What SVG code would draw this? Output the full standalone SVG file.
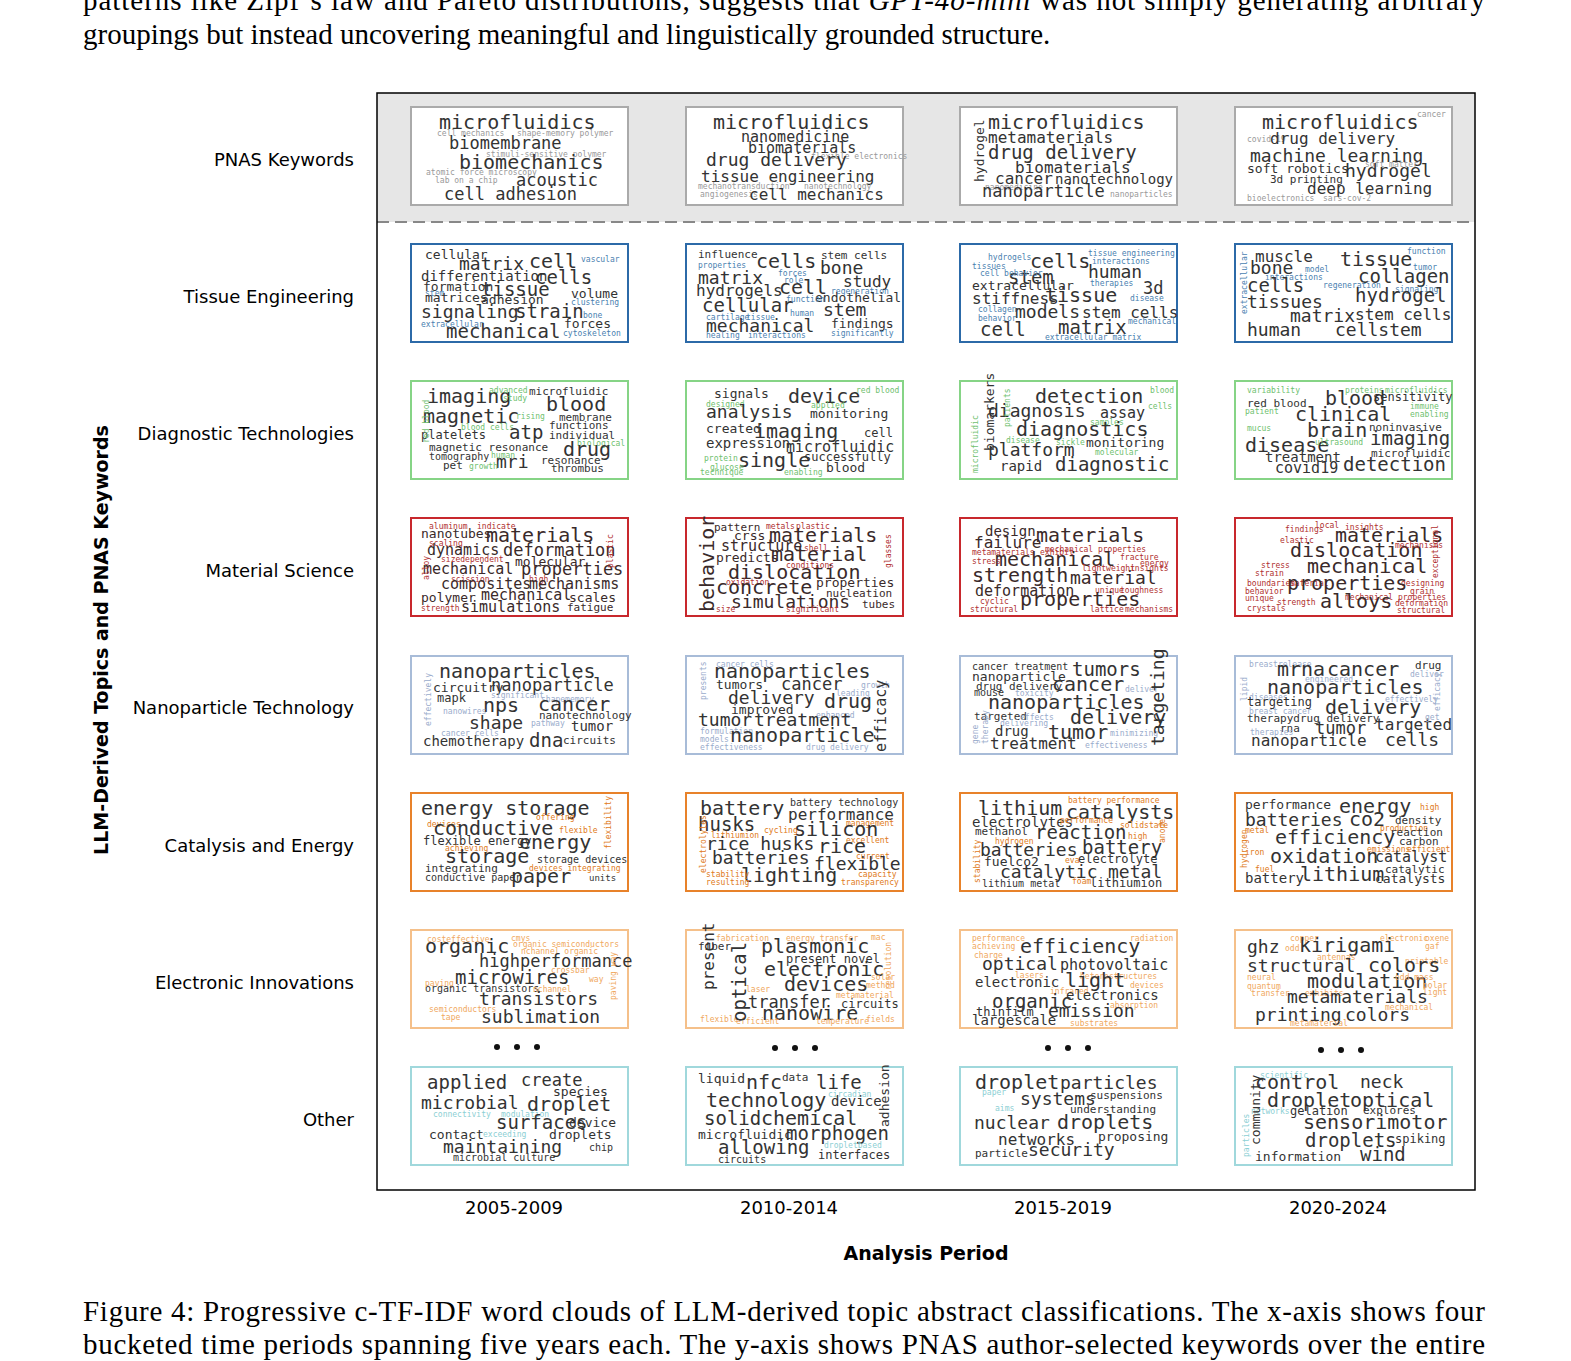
<svg xmlns="http://www.w3.org/2000/svg" width="1571" height="1361" viewBox="0 0 1571 1361">
<style>
.cap{font-family:"Liberation Serif",serif;font-size:29px;fill:#000}
.lab{font-family:"DejaVu Sans",sans-serif;font-size:18px;fill:#000}
.ttl{font-family:"DejaVu Sans",sans-serif;font-size:19px;font-weight:bold;fill:#000}
.box{fill:#fff;stroke-width:2}
text.w{font-family:"DejaVu Sans Mono",monospace;fill:#333}
text.s{font-family:"DejaVu Sans Mono",monospace;font-size:8px}
.r0 .box{stroke:#aaa}.r0 .s{fill:#999}
.r1 .box{stroke:#2c6aa8}.r1 .s{fill:#4a7fb0}
.r2 .box{stroke:#86d486}.r2 .s{fill:#6fbf6f}
.r3 .box{stroke:#c8282d}.r3 .s{fill:#b03030}.r3 .w{fill:#3a2a2a}
.r4 .box{stroke:#a8bcd8}.r4 .s{fill:#9aaccc}
.r5 .box{stroke:#e8822a}.r5 .s{fill:#e07a20}
.r6 .box{stroke:#f5c08a}.r6 .s{fill:#f0a860}
.r7 .box{stroke:#a0d8dc}.r7 .s{fill:#8ccfd4}
</style>
<rect width="1571" height="1361" fill="#fff"/>
<text class="cap" x="83" y="10" textLength="1402" lengthAdjust="spacing">patterns like Zipf’s law and Pareto distributions, suggests that <tspan font-style="italic">GPT-4o-mini</tspan> was not simply generating arbitrary</text>
<text class="cap" x="83" y="44">groupings but instead uncovering meaningful and linguistically grounded structure.</text>
<rect x="377" y="93" width="1098" height="129" fill="#e6e6e6"/>
<line x1="377" y1="222" x2="1475" y2="222" stroke="#888" stroke-width="2" stroke-dasharray="12,6"/>
<rect x="377" y="93" width="1098" height="1097" fill="none" stroke="#000" stroke-width="1.5"/>
<g id="rowlabels">
<text class="lab" x="354" y="166" text-anchor="end">PNAS Keywords</text>
<text class="lab" x="354" y="303" text-anchor="end">Tissue Engineering</text>
<text class="lab" x="354" y="440" text-anchor="end">Diagnostic Technologies</text>
<text class="lab" x="354" y="577" text-anchor="end">Material Science</text>
<text class="lab" x="354" y="714" text-anchor="end">Nanoparticle Technology</text>
<text class="lab" x="354" y="852" text-anchor="end">Catalysis and Energy</text>
<text class="lab" x="354" y="989" text-anchor="end">Electronic Innovations</text>
<text class="lab" x="354" y="1126" text-anchor="end">Other</text>
</g>
<text class="ttl" transform="translate(108,640) rotate(-90)" text-anchor="middle">LLM-Derived Topics and PNAS Keywords</text>
<g id="xticks">
<text class="lab" x="514" y="1214" text-anchor="middle">2005-2009</text>
<text class="lab" x="789" y="1214" text-anchor="middle">2010-2014</text>
<text class="lab" x="1063" y="1214" text-anchor="middle">2015-2019</text>
<text class="lab" x="1338" y="1214" text-anchor="middle">2020-2024</text>
</g>
<text class="ttl" x="926" y="1260" text-anchor="middle">Analysis Period</text>
<text class="cap" x="83" y="1321" textLength="1402" lengthAdjust="spacing">Figure 4: Progressive c-TF-IDF word clouds of LLM-derived topic abstract classifications. The x-axis shows four</text>
<text class="cap" x="83" y="1354" textLength="1402" lengthAdjust="spacing">bucketed time periods spanning five years each. The y-axis shows PNAS author-selected keywords over the entire</text>

<!-- PNAS row -->
<g class="r0">
<g id="pnas-1" transform="translate(411,107)"><rect class="box" width="217" height="98"/>
<text class="w" x="28" y="22" font-size="20">microfluidics</text><text class="s" x="26" y="29">cell mechanics</text><text class="s" x="106" y="29">shape-memory polymer</text>
<text class="w" x="38" y="42" font-size="17">biomembrane</text><text class="s" x="75" y="50" font-size="7">stimuli-sensitive polymer</text>
<text class="w" x="48" y="62" font-size="20">biomechanics</text><text class="s" x="15" y="68" font-size="7">atomic force microscopy</text><text class="s" x="24" y="76" font-size="7">lab on a chip</text>
<text class="w" x="105" y="79" font-size="17">acoustic</text><text class="w" x="33" y="93" font-size="17">cell adhesion</text></g>
<g id="pnas-2" transform="translate(686,107)"><rect class="box" width="217" height="98"/>
<text class="w" x="27" y="22" font-size="20">microfluidics</text><text class="w" x="55" y="35" font-size="15">nanomedicine</text><text class="w" x="62" y="46" font-size="15">biomaterials</text><text class="s" x="125" y="52">flexible electronics</text>
<text class="w" x="20" y="59" font-size="18">drug delivery</text><text class="w" x="15" y="75" font-size="16">tissue engineering</text><text class="s" x="12" y="82">mechanotransduction</text><text class="s" x="118" y="82">nanotechnology</text>
<text class="s" x="14" y="90">angiogenesis</text><text class="w" x="63" y="93" font-size="16">cell mechanics</text></g>
<g id="pnas-3" transform="translate(960,107)"><rect class="box" width="217" height="98"/>
<text class="w" x="28" y="22" font-size="20">microfluidics</text><text class="w" x="28" y="36" font-size="16">metamaterials</text><text class="w" x="28" y="52" font-size="19">drug delivery</text>
<text class="w" x="55" y="66" font-size="16">biomaterials</text><text class="w" x="35" y="77" font-size="16">cancer</text><text class="w" x="95" y="77" font-size="14">nanotechnology</text>
<text class="s" x="25" y="83">nanomedicine</text><text class="w" x="22" y="90" font-size="17">nanoparticle</text><text class="s" x="150" y="90" font-size="7">nanoparticles</text>
<text class="w" transform="translate(24,75) rotate(-90)" font-size="13">hydrogel</text></g>
<g id="pnas-4" transform="translate(1235,107)"><rect class="box" width="217" height="98"/>
<text class="w" x="27" y="22" font-size="20">microfluidics</text><text class="s" x="182" y="10">cancer</text><text class="s" x="12" y="35">covid-19</text><text class="w" x="35" y="37" font-size="16">drug delivery</text>
<text class="w" x="15" y="55" font-size="18">machine learning</text><text class="s" x="130" y="60">soft matter</text><text class="w" x="12" y="66" font-size="13">soft robotics</text><text class="w" x="110" y="70" font-size="18">hydrogel</text>
<text class="w" x="35" y="76" font-size="11">3d printing</text><text class="w" x="72" y="87" font-size="16">deep learning</text><text class="s" x="12" y="94">bioelectronics</text><text class="s" x="88" y="94">sars-cov-2</text></g>
</g>

<!-- Tissue -->
<g class="r1">
<g id="tissue-1" transform="translate(411,244)"><rect class="box" width="217" height="98"/>
<text class="w" x="14" y="15" font-size="13">cellular</text><text class="w" x="48" y="26" font-size="18">matrix</text><text class="w" x="118" y="24" font-size="20">cell</text><text class="s" x="170" y="18">vascular</text>
<text class="w" x="10" y="37" font-size="14">differentiation</text><text class="w" x="124" y="40" font-size="19">cells</text><text class="w" x="12" y="47" font-size="13">formation</text><text class="s" x="14" y="52">stem</text>
<text class="w" x="70" y="52" font-size="19">tissue</text><text class="w" x="160" y="54" font-size="13">volume</text><text class="w" x="14" y="58" font-size="13">matrices</text><text class="w" x="70" y="60" font-size="13">adhesion</text><text class="s" x="160" y="61">clustering</text>
<text class="w" x="10" y="74" font-size="18">signaling</text><text class="w" x="104" y="74" font-size="19">strain</text><text class="s" x="172" y="74">bone</text><text class="s" x="10" y="83">extracellular</text><text class="w" x="153" y="84" font-size="13">forces</text>
<text class="w" x="35" y="94" font-size="19">mechanical</text><text class="s" x="152" y="92">cytoskeleton</text></g>
<g id="tissue-2" transform="translate(686,244)"><rect class="box" width="217" height="98"/>
<text class="w" x="12" y="14" font-size="11">influence</text><text class="w" x="70" y="24" font-size="20">cells</text><text class="w" x="135" y="15" font-size="11">stem cells</text><text class="s" x="12" y="24">properties</text>
<text class="w" x="134" y="30" font-size="18">bone</text><text class="w" x="12" y="40" font-size="18">matrix</text><text class="s" x="92" y="32">forces</text><text class="s" x="98" y="39">role</text>
<text class="w" x="157" y="43" font-size="16">study</text><text class="w" x="10" y="52" font-size="16">hydrogels</text><text class="w" x="93" y="50" font-size="20">cell</text><text class="s" x="145" y="50">regeneration</text>
<text class="w" x="16" y="68" font-size="19">cellular</text><text class="w" x="129" y="58" font-size="13">endothelial</text><text class="s" x="100" y="58">function</text><text class="w" x="137" y="72" font-size="18">stem</text>
<text class="s" x="20" y="76">cartilage</text><text class="s" x="60" y="76">tissue</text><text class="s" x="104" y="72">human</text><text class="w" x="20" y="88" font-size="18">mechanical</text><text class="w" x="145" y="84" font-size="13">findings</text>
<text class="s" x="20" y="94">healing</text><text class="s" x="62" y="94">interactions</text><text class="s" x="145" y="92">significantly</text></g>
<g id="tissue-3" transform="translate(960,244)"><rect class="box" width="217" height="98"/>
<text class="s" x="28" y="16">hydrogels</text><text class="w" x="70" y="24" font-size="20">cells</text><text class="s" x="128" y="12">tissue engineering</text><text class="s" x="132" y="20">interactions</text>
<text class="s" x="12" y="25">tissues</text><text class="w" x="48" y="40" font-size="19">stem</text><text class="w" x="128" y="34" font-size="18">human</text><text class="s" x="20" y="32">cell behavior</text><text class="s" x="130" y="42">therapies</text>
<text class="w" x="12" y="46" font-size="13">extracellular</text><text class="w" x="183" y="50" font-size="17">3d</text><text class="w" x="12" y="60" font-size="16">stiffness</text><text class="w" x="85" y="58" font-size="20">tissue</text><text class="s" x="170" y="57">disease</text>
<text class="s" x="18" y="68">collagen</text><text class="w" x="55" y="74" font-size="18">models</text><text class="w" x="122" y="74" font-size="16">stem cells</text><text class="s" x="18" y="77">behavior</text><text class="s" x="168" y="80">mechanical</text>
<text class="w" x="20" y="92" font-size="19">cell</text><text class="w" x="98" y="90" font-size="19">matrix</text><text class="s" x="85" y="96">extracellular matrix</text></g>
<g id="tissue-4" transform="translate(1235,244)"><rect class="box" width="217" height="98"/>
<text class="w" x="20" y="18" font-size="16">muscle</text><text class="w" x="105" y="22" font-size="20">tissue</text><text class="s" x="172" y="10">function</text><text class="w" x="15" y="30" font-size="18">bone</text><text class="s" x="70" y="28">model</text><text class="s" x="178" y="26">tumor</text>
<text class="w" x="123" y="39" font-size="19">collagen</text><text class="s" x="30" y="36">interactions</text><text class="w" x="12" y="48" font-size="19">cells</text><text class="s" x="88" y="44">regeneration</text><text class="s" x="160" y="48">signaling</text>
<text class="w" x="12" y="64" font-size="18">tissues</text><text class="w" x="120" y="58" font-size="19">hydrogel</text><text class="w" x="55" y="78" font-size="18">matrix</text><text class="w" x="120" y="76" font-size="16">stem cells</text>
<text class="w" x="12" y="92" font-size="18">human</text><text class="w" x="100" y="92" font-size="18">cellstem</text><text class="s" transform="translate(12,70) rotate(-90)">extracellular</text></g>
</g>

<!-- Diagnostic -->
<g class="r2">
<g id="diag-1" transform="translate(411,381)"><rect class="box" width="217" height="98"/>
<text class="w" x="16" y="22" font-size="20">imaging</text><text class="s" x="78" y="12">advanced</text><text class="w" x="118" y="14" font-size="11">microfluidic</text><text class="s" x="92" y="20">study</text>
<text class="w" x="135" y="30" font-size="20">blood</text><text class="w" x="12" y="42" font-size="20">magnetic</text><text class="s" x="105" y="38">rising</text><text class="w" x="148" y="40" font-size="11">membrane</text><text class="w" x="138" y="48" font-size="11">functions</text>
<text class="w" x="10" y="58" font-size="12">platelets</text><text class="s" x="50" y="49">blood cells</text><text class="w" x="98" y="58" font-size="19">atp</text><text class="w" x="138" y="58" font-size="11">individual</text><text class="s" x="166" y="65">biological</text>
<text class="w" x="18" y="70" font-size="11">magnetic resonance</text><text class="w" x="152" y="75" font-size="20">drug</text><text class="w" x="18" y="79" font-size="10">tomography</text><text class="s" x="80" y="77">human</text>
<text class="w" x="85" y="87" font-size="18">mri</text><text class="w" x="130" y="83" font-size="11">resonance</text><text class="w" x="32" y="88" font-size="11">pet</text><text class="s" x="58" y="88">growth</text><text class="w" x="140" y="91" font-size="11">thrombus</text>
<text class="s" transform="translate(18,62) rotate(-90)">red blood</text></g>
<g id="diag-2" transform="translate(686,381)"><rect class="box" width="217" height="98"/>
<text class="w" x="28" y="17" font-size="13">signals</text><text class="w" x="102" y="22" font-size="20">device</text><text class="s" x="170" y="12">red blood</text><text class="s" x="20" y="26">designed</text><text class="w" x="20" y="37" font-size="18">analysis</text>
<text class="w" x="124" y="37" font-size="13">monitoring</text><text class="s" x="125" y="27">applied</text><text class="w" x="20" y="52" font-size="13">created</text><text class="w" x="68" y="57" font-size="20">imaging</text><text class="w" x="178" y="56" font-size="12">cell</text>
<text class="w" x="20" y="67" font-size="14">expression</text><text class="w" x="100" y="71" font-size="15">microfluidic</text><text class="s" x="18" y="80">protein</text><text class="w" x="52" y="86" font-size="20">single</text>
<text class="w" x="118" y="80" font-size="12">successfully</text><text class="s" x="24" y="89">glucose</text><text class="w" x="140" y="91" font-size="13">blood</text><text class="s" x="14" y="94">technique</text><text class="s" x="98" y="94">enabling</text></g>
<g id="diag-3" transform="translate(960,381)"><rect class="box" width="217" height="98"/>
<text class="w" x="75" y="22" font-size="20">detection</text><text class="s" x="190" y="12">blood</text><text class="w" x="28" y="36" font-size="18">diagnosis</text><text class="w" x="140" y="37" font-size="15">assay</text><text class="s" x="188" y="28">cells</text>
<text class="s" x="130" y="44">samples</text><text class="w" x="56" y="55" font-size="20">diagnostics</text><text class="s" x="46" y="62">disease</text><text class="s" x="96" y="64">sickle</text><text class="w" x="126" y="66" font-size="13">monitoring</text>
<text class="w" x="28" y="75" font-size="18">platform</text><text class="s" x="135" y="74">molecular</text><text class="w" x="40" y="90" font-size="14">rapid</text><text class="w" x="95" y="90" font-size="19">diagnostic</text>
<text class="w" transform="translate(34,70) rotate(-90)" font-size="13">biomarkers</text><text class="s" transform="translate(18,92) rotate(-90)">microfluidic</text><text class="s" transform="translate(50,46) rotate(-90)">patients</text></g>
<g id="diag-4" transform="translate(1235,381)"><rect class="box" width="217" height="98"/>
<text class="s" x="12" y="12">variability</text><text class="s" x="110" y="12">proteins</text><text class="s" x="150" y="12">microfluidics</text><text class="w" x="90" y="24" font-size="20">blood</text><text class="w" x="138" y="20" font-size="12">sensitivity</text>
<text class="w" x="12" y="26" font-size="11">red blood</text><text class="s" x="10" y="33">patient</text><text class="s" x="175" y="28">immune</text><text class="w" x="60" y="40" font-size="20">clinical</text><text class="s" x="175" y="36">enabling</text>
<text class="w" x="72" y="56" font-size="20">brain</text><text class="w" x="134" y="50" font-size="11">noninvasive</text><text class="s" x="12" y="50">mucus</text><text class="w" x="10" y="71" font-size="20">disease</text><text class="w" x="135" y="64" font-size="19">imaging</text>
<text class="s" x="80" y="64">ultrasound</text><text class="w" x="30" y="81" font-size="14">treatment</text><text class="w" x="136" y="76" font-size="11">microfluidic</text><text class="w" x="40" y="92" font-size="15">covid19</text><text class="w" x="108" y="90" font-size="19">detection</text></g>
</g>

<!-- Material -->
<g class="r3">
<g id="mat-1" transform="translate(411,518)"><rect class="box" width="217" height="98"/>
<text class="s" x="18" y="11">aluminum</text><text class="s" x="66" y="11">indicate</text><text class="w" x="10" y="20" font-size="13">nanotubes</text><text class="w" x="75" y="24" font-size="20">materials</text><text class="s" x="18" y="28">scaling</text>
<text class="w" x="16" y="37" font-size="15">dynamics</text><text class="w" x="92" y="38" font-size="17">deformation</text><text class="s" x="30" y="44">sizedependent</text><text class="w" x="104" y="48" font-size="13">molecular</text>
<text class="w" x="12" y="56" font-size="15">mechanical</text><text class="w" x="110" y="57" font-size="17">properties</text><text class="s" x="40" y="64">scission</text><text class="s" x="118" y="64">high</text>
<text class="w" x="30" y="71" font-size="15">composites</text><text class="w" x="118" y="71" font-size="15">mechanisms</text><text class="w" x="10" y="84" font-size="13">polymer</text><text class="w" x="70" y="82" font-size="15">mechanical</text><text class="w" x="158" y="84" font-size="13">scales</text>
<text class="s" x="10" y="93">strength</text><text class="w" x="50" y="94" font-size="15">simulations</text><text class="w" x="156" y="93" font-size="11">fatigue</text>
<text class="s" transform="translate(18,62) rotate(-90)">alloy</text><text class="s" transform="translate(202,50) rotate(-90)">plastic</text></g>
<g id="mat-2" transform="translate(686,518)"><rect class="box" width="217" height="98"/>
<text class="w" x="28" y="13" font-size="11">pattern</text><text class="s" x="80" y="11">metals</text><text class="s" x="110" y="11">plastic</text><text class="w" x="48" y="22" font-size="13">crss</text><text class="w" x="83" y="24" font-size="20">materials</text>
<text class="w" x="35" y="33" font-size="15">structure</text><text class="s" x="118" y="33">shell</text><text class="w" x="30" y="44" font-size="13">predicts</text><text class="w" x="85" y="43" font-size="20">material</text>
<text class="w" x="42" y="61" font-size="20">dislocation</text><text class="s" x="100" y="50">conditions</text><text class="s" x="40" y="67">oxidation</text><text class="w" x="30" y="76" font-size="20">concrete</text><text class="w" x="130" y="69" font-size="13">properties</text>
<text class="w" x="140" y="79" font-size="11">nucleation</text><text class="w" x="45" y="90" font-size="18">simulations</text><text class="w" x="176" y="90" font-size="11">tubes</text><text class="s" x="30" y="94">size</text><text class="s" x="100" y="94">significant</text>
<text class="w" transform="translate(28,94) rotate(-90)" font-size="20">behavior</text><text class="s" transform="translate(205,50) rotate(-90)">glasses</text></g>
<g id="mat-3" transform="translate(960,518)"><rect class="box" width="217" height="98"/>
<text class="w" x="25" y="18" font-size="14">design</text><text class="w" x="76" y="24" font-size="20">materials</text><text class="w" x="14" y="30" font-size="16">failure</text><text class="s" x="85" y="34">mechanical properties</text>
<text class="s" x="12" y="37">metamaterials</text><text class="s" x="80" y="37">exhibit</text><text class="w" x="35" y="48" font-size="20">mechanical</text><text class="s" x="160" y="42">fracture</text><text class="s" x="180" y="48">energy</text>
<text class="s" x="12" y="46">stress</text><text class="w" x="12" y="64" font-size="20">strength</text><text class="s" x="122" y="53">lightweight</text><text class="s" x="170" y="53">insights</text><text class="w" x="110" y="66" font-size="18">material</text>
<text class="w" x="15" y="78" font-size="15">deformation</text><text class="s" x="135" y="75">unique</text><text class="s" x="160" y="75">toughness</text><text class="s" x="20" y="86">cyclic</text>
<text class="w" x="60" y="88" font-size="20">properties</text><text class="s" x="10" y="94">structural</text><text class="s" x="130" y="94">lattice</text><text class="s" x="165" y="94">mechanisms</text></g>
<g id="mat-4" transform="translate(1235,518)"><rect class="box" width="217" height="98"/>
<text class="s" x="50" y="14">findings</text><text class="s" x="80" y="10">local</text><text class="s" x="110" y="12">insights</text><text class="w" x="100" y="24" font-size="20">materials</text><text class="s" x="45" y="25">elastic</text>
<text class="w" x="55" y="39" font-size="20">dislocation</text><text class="s" x="160" y="30">mechanisms</text><text class="w" x="72" y="55" font-size="20">mechanical</text><text class="s" x="26" y="50">stress</text><text class="s" x="20" y="58">strain</text>
<text class="s" x="12" y="68">boundaries</text><text class="s" x="55" y="68">material</text><text class="s" x="166" y="68">designing</text><text class="s" x="10" y="76">behavior</text><text class="w" x="52" y="72" font-size="20">properties</text><text class="s" x="175" y="76">grain</text>
<text class="s" x="10" y="83">unique</text><text class="s" x="110" y="82">mechanical properties</text><text class="w" x="85" y="90" font-size="20">alloys</text><text class="s" x="42" y="87">strength</text><text class="s" x="12" y="93">crystals</text>
<text class="s" x="160" y="88">deformation</text><text class="s" x="162" y="95">structural</text><text class="s" transform="translate(203,60) rotate(-90)">exceptional</text></g>
</g>

<!-- Nano -->
<g class="r4">
<g id="nano-1" transform="translate(411,656)"><rect class="box" width="217" height="98"/>
<text class="w" x="28" y="22" font-size="20">nanoparticles</text><text class="w" x="22" y="36" font-size="13">circuitry</text><text class="w" x="80" y="35" font-size="17">nanoparticle</text><text class="w" x="26" y="46" font-size="12">mapk</text>
<text class="s" x="80" y="42">significant</text><text class="s" x="130" y="46">shapememory</text><text class="w" x="72" y="56" font-size="20">nps</text><text class="w" x="127" y="55" font-size="20">cancer</text><text class="s" x="32" y="58">nanowires</text>
<text class="w" x="128" y="63" font-size="11">nanotechnology</text><text class="w" x="58" y="73" font-size="18">shape</text><text class="s" x="120" y="70">pathway</text><text class="w" x="160" y="75" font-size="14">tumor</text><text class="s" x="30" y="80">cancer cells</text>
<text class="w" x="12" y="90" font-size="14">chemotherapy</text><text class="w" x="118" y="91" font-size="19">dna</text><text class="w" x="152" y="88" font-size="11">circuits</text><text class="s" transform="translate(20,70) rotate(-90)">effectively</text></g>
<g id="nano-2" transform="translate(686,656)"><rect class="box" width="217" height="98"/>
<text class="s" x="30" y="11">cancer cells</text><text class="w" x="28" y="22" font-size="20">nanoparticles</text><text class="w" x="30" y="33" font-size="13">tumors</text><text class="w" x="95" y="34" font-size="17">cancer</text><text class="s" x="175" y="32">growth</text>
<text class="w" x="42" y="48" font-size="18">delivery</text><text class="w" x="138" y="52" font-size="20">drug</text><text class="s" x="150" y="40">leading</text><text class="w" x="45" y="58" font-size="13">improved</text><text class="s" x="130" y="62">enhanced</text>
<text class="w" x="12" y="70" font-size="18">tumor</text><text class="w" x="68" y="70" font-size="18">treatment</text><text class="s" x="14" y="78">formulation</text><text class="s" x="14" y="86">models</text>
<text class="w" x="44" y="86" font-size="20">nanoparticle</text><text class="s" x="14" y="94">effectiveness</text><text class="s" x="120" y="94">drug delivery</text><text class="w" transform="translate(200,96) rotate(-90)" font-size="15">efficacy</text>
<text class="s" transform="translate(20,44) rotate(-90)">presents</text></g>
<g id="nano-3" transform="translate(960,656)"><rect class="box" width="217" height="98"/>
<text class="w" x="12" y="14" font-size="10">cancer treatment</text><text class="w" x="112" y="20" font-size="19">tumors</text><text class="w" x="12" y="25" font-size="13">nanoparticle</text><text class="w" x="16" y="34" font-size="11">drug delivery</text>
<text class="w" x="92" y="35" font-size="20">cancer</text><text class="s" x="165" y="36">deliver</text><text class="w" x="14" y="40" font-size="10">mouse</text><text class="s" x="55" y="40">toxicity</text><text class="w" x="28" y="53" font-size="20">nanoparticles</text>
<text class="w" x="14" y="64" font-size="11">targeted</text><text class="s" x="60" y="64">effects</text><text class="w" x="110" y="68" font-size="20">delivery</text><text class="s" x="40" y="70">delivering</text><text class="w" x="35" y="80" font-size="14">drug</text>
<text class="w" x="88" y="83" font-size="20">tumor</text><text class="s" x="150" y="80">minimizing</text><text class="w" x="30" y="93" font-size="16">treatment</text><text class="s" x="125" y="92">effectiveness</text>
<text class="w" transform="translate(204,90) rotate(-90)" font-size="18">targeting</text><text class="s" transform="translate(18,88) rotate(-90)">gene</text><text class="s" transform="translate(28,88) rotate(-90)">therapy</text></g>
<g id="nano-4" transform="translate(1235,656)"><rect class="box" width="217" height="98"/>
<text class="s" x="14" y="11">breastrelease</text><text class="w" x="42" y="20" font-size="20">mrna</text><text class="w" x="92" y="20" font-size="20">cancer</text><text class="w" x="180" y="13" font-size="11">drug</text><text class="s" x="175" y="21">deliver</text>
<text class="w" x="32" y="38" font-size="20">nanoparticles</text><text class="s" x="70" y="26">engineered</text><text class="s" x="14" y="44">diseases</text><text class="s" x="150" y="46">effectively</text><text class="w" x="12" y="50" font-size="12">targeting</text>
<text class="w" x="90" y="58" font-size="20">delivery</text><text class="s" x="14" y="58">breast cancer</text><text class="w" x="12" y="66" font-size="11">therapydrug delivery</text><text class="w" x="140" y="74" font-size="16">targeted</text><text class="s" x="190" y="64">get</text>
<text class="w" x="45" y="76" font-size="11">rna</text><text class="w" x="80" y="78" font-size="17">tumor</text><text class="s" x="15" y="79">therapies</text><text class="w" x="16" y="90" font-size="16">nanoparticle</text><text class="w" x="150" y="90" font-size="18">cells</text>
<text class="s" transform="translate(12,45) rotate(-90)">lipid</text><text class="s" transform="translate(205,55) rotate(-90)">efficacy</text></g>
</g>

<!-- Catalysis -->
<g class="r5">
<g id="cat-1" transform="translate(411,793)"><rect class="box" width="217" height="98"/>
<text class="w" x="10" y="22" font-size="20">energy storage</text><text class="s" x="125" y="27">offering</text><text class="s" x="16" y="34">devices</text><text class="w" x="22" y="42" font-size="20">conductive</text><text class="s" x="148" y="40">flexible</text>
<text class="w" x="12" y="52" font-size="12">flexible energy</text><text class="w" x="108" y="56" font-size="20">energy</text><text class="s" x="34" y="58">achieving</text><text class="w" x="34" y="70" font-size="20">storage</text>
<text class="w" x="126" y="70" font-size="10">storage devices</text><text class="w" x="14" y="79" font-size="11">integrating</text><text class="s" x="118" y="78">devices integrating</text><text class="w" x="14" y="88" font-size="10">conductive paper</text>
<text class="w" x="100" y="90" font-size="20">paper</text><text class="w" x="178" y="88" font-size="9">units</text><text class="s" transform="translate(200,56) rotate(-90)">flexibility</text></g>
<g id="cat-2" transform="translate(686,793)"><rect class="box" width="217" height="98"/>
<text class="w" x="14" y="22" font-size="20">battery</text><text class="w" x="104" y="13" font-size="10">battery technology</text><text class="w" x="102" y="27" font-size="16">performance</text><text class="w" x="12" y="38" font-size="19">husks</text>
<text class="s" x="25" y="45">lithiumion</text><text class="s" x="78" y="40">cycling</text><text class="s" x="160" y="33">management</text><text class="w" x="108" y="43" font-size="20">silicon</text><text class="s" x="160" y="50">excellent</text>
<text class="w" x="20" y="57" font-size="18">rice husks</text><text class="w" x="132" y="60" font-size="20">rice</text><text class="w" x="26" y="71" font-size="18">batteries</text><text class="s" x="170" y="66">current</text>
<text class="w" x="128" y="77" font-size="18">flexible</text><text class="w" x="55" y="89" font-size="20">lighting</text><text class="s" x="20" y="84">stability</text><text class="s" x="20" y="92">resulting</text><text class="s" x="172" y="84">capacity</text><text class="s" x="155" y="92">transparency</text>
<text class="s" transform="translate(20,80) rotate(-90)">electrolytes</text></g>
<g id="cat-3" transform="translate(960,793)"><rect class="box" width="217" height="98"/>
<text class="w" x="18" y="22" font-size="20">lithium</text><text class="s" x="108" y="10">battery performance</text><text class="w" x="106" y="26" font-size="20">catalysts</text><text class="w" x="12" y="34" font-size="14">electrolytes</text>
<text class="s" x="100" y="30">performance</text><text class="w" x="15" y="42" font-size="11">methanol</text><text class="w" x="75" y="46" font-size="19">reaction</text><text class="s" x="160" y="35">solidstate</text><text class="s" x="168" y="46">high</text>
<text class="s" x="35" y="51">hydrogen</text><text class="w" x="20" y="63" font-size="18">batteries</text><text class="w" x="122" y="61" font-size="19">battery</text><text class="w" x="24" y="73" font-size="13">fuelco2</text><text class="s" x="105" y="70">eva</text>
<text class="w" x="118" y="70" font-size="12">electrolyte</text><text class="w" x="40" y="85" font-size="18">catalytic</text><text class="w" x="148" y="85" font-size="18">metal</text><text class="w" x="22" y="94" font-size="10">lithium metal</text><text class="s" x="112" y="91">foam</text>
<text class="w" x="130" y="94" font-size="12">lithiumion</text><text class="s" transform="translate(20,90) rotate(-90)">stability</text><text class="s" transform="translate(205,50) rotate(-90)">anode</text></g>
<g id="cat-4" transform="translate(1235,793)"><rect class="box" width="217" height="98"/>
<text class="w" x="10" y="16" font-size="13">performance</text><text class="w" x="104" y="20" font-size="20">energy</text><text class="s" x="185" y="17">high</text><text class="w" x="10" y="33" font-size="18">batteries</text><text class="w" x="114" y="33" font-size="20">co2</text>
<text class="w" x="160" y="31" font-size="11">density</text><text class="s" x="10" y="40">metal</text><text class="w" x="40" y="51" font-size="20">efficiency</text><text class="s" x="145" y="38">production</text><text class="w" x="155" y="43" font-size="11">reaction</text>
<text class="w" x="164" y="52" font-size="11">carbon</text><text class="s" x="10" y="62">iron</text><text class="s" x="132" y="59">emissions</text><text class="s" x="172" y="59">efficient</text><text class="w" x="35" y="70" font-size="20">oxidation</text><text class="w" x="140" y="69" font-size="15">catalyst</text>
<text class="s" x="20" y="79">fuel</text><text class="w" x="150" y="80" font-size="11">catalytic</text><text class="w" x="10" y="90" font-size="14">battery</text><text class="w" x="65" y="88" font-size="20">lithium</text><text class="w" x="140" y="90" font-size="13">catalysts</text>
<text class="s" transform="translate(12,75) rotate(-90)">hydrogen</text></g>
</g>

<!-- Electronic -->
<g class="r6">
<g id="elec-1" transform="translate(411,930)"><rect class="box" width="217" height="98"/>
<text class="s" x="16" y="12">costeffective</text><text class="s" x="100" y="11">cmys</text><text class="w" x="14" y="23" font-size="20">organic</text><text class="s" x="102" y="17">organic semiconductors</text><text class="s" x="110" y="24">nchannel organic</text>
<text class="w" x="68" y="37" font-size="17">highperformance</text><text class="s" x="140" y="43">crossbar</text><text class="s" x="14" y="56">paving</text><text class="w" x="44" y="54" font-size="19">microwires</text><text class="s" x="178" y="52">way</text>
<text class="w" x="14" y="62" font-size="10">organic transistors</text><text class="s" x="122" y="62">nchannel</text><text class="w" x="68" y="75" font-size="18">transistors</text><text class="s" x="18" y="82">semiconductors</text><text class="s" x="30" y="90">tape</text>
<text class="w" x="70" y="93" font-size="18">sublimation</text><text class="s" transform="translate(205,70) rotate(-90)">paving way</text></g>
<g id="elec-2" transform="translate(686,930)"><rect class="box" width="217" height="98"/>
<text class="s" x="30" y="11">fabrication</text><text class="s" x="100" y="11">energy transfer</text><text class="s" x="185" y="10">mac</text><text class="w" x="12" y="20" font-size="11">fiber</text><text class="w" x="75" y="23" font-size="20">plasmonic</text>
<text class="w" x="100" y="33" font-size="12">present novel</text><text class="w" x="78" y="46" font-size="20">electronic</text><text class="s" x="185" y="50">solar</text><text class="w" x="98" y="61" font-size="20">devices</text><text class="s" x="180" y="58">method</text>
<text class="s" x="60" y="62">laser</text><text class="w" x="62" y="78" font-size="17">transfer</text><text class="s" x="150" y="68">metamaterial</text><text class="w" x="155" y="78" font-size="12">circuits</text>
<text class="w" x="76" y="90" font-size="20">nanowire</text><text class="s" x="14" y="92">flexible</text><text class="s" x="50" y="94">efficient</text><text class="s" x="130" y="94">temperature</text><text class="s" x="180" y="92">fields</text>
<text class="w" transform="translate(28,60) rotate(-90)" font-size="16">present</text><text class="w" transform="translate(60,92) rotate(-90)" font-size="19">optical</text><text class="s" transform="translate(205,60) rotate(-90)">resolution</text></g>
<g id="elec-3" transform="translate(960,930)"><rect class="box" width="217" height="98"/>
<text class="s" x="12" y="11">performance</text><text class="s" x="12" y="19">achieving</text><text class="w" x="60" y="23" font-size="20">efficiency</text><text class="s" x="170" y="11">radiation</text><text class="s" x="14" y="28">charge</text>
<text class="w" x="22" y="40" font-size="18">optical</text><text class="w" x="100" y="40" font-size="15">photovoltaic</text><text class="s" x="55" y="48">lasers</text><text class="s" x="120" y="49">heterostructures</text><text class="w" x="105" y="57" font-size="20">light</text>
<text class="w" x="15" y="57" font-size="14">electronic</text><text class="s" x="170" y="58">devices</text><text class="s" x="90" y="64">infrared</text><text class="w" x="32" y="78" font-size="19">organic</text><text class="w" x="106" y="70" font-size="14">electronics</text>
<text class="s" x="150" y="78">absorption</text><text class="w" x="16" y="86" font-size="12">thinfilm</text><text class="w" x="88" y="87" font-size="18">emission</text><text class="w" x="12" y="95" font-size="14">largescale</text><text class="s" x="110" y="96">substrates</text></g>
<g id="elec-4" transform="translate(1235,930)"><rect class="box" width="217" height="98"/>
<text class="s" x="55" y="11">copper</text><text class="s" x="145" y="11">electronic</text><text class="s" x="190" y="11">oxene</text><text class="w" x="12" y="23" font-size="18">ghz</text><text class="s" x="50" y="21">odd</text><text class="w" x="64" y="22" font-size="20">kirigami</text>
<text class="s" x="190" y="19">gaf</text><text class="s" x="82" y="30">antennas</text><text class="s" x="170" y="34">printable</text><text class="w" x="12" y="42" font-size="18">structural</text><text class="w" x="133" y="42" font-size="20">colors</text>
<text class="s" x="12" y="50">neural</text><text class="s" x="12" y="59">quantum</text><text class="w" x="72" y="58" font-size="20">modulation</text><text class="s" x="160" y="50">odd mass</text><text class="s" x="188" y="58">polar</text>
<text class="s" x="16" y="66">transfer</text><text class="s" x="70" y="66">exhibits</text><text class="s" x="188" y="65">light</text><text class="w" x="52" y="73" font-size="18">metamaterials</text><text class="s" x="150" y="80">mechanical</text>
<text class="w" x="20" y="91" font-size="18">printing</text><text class="w" x="110" y="91" font-size="18">colors</text><text class="s" x="55" y="96">metamaterial</text></g>
</g>

<!-- dots -->
<g id="ellipsis" fill="#111">
<circle cx="497" cy="1047" r="3"/><circle cx="517" cy="1047" r="3"/><circle cx="537" cy="1047" r="3"/>
<circle cx="775" cy="1048" r="3"/><circle cx="795" cy="1048" r="3"/><circle cx="815" cy="1048" r="3"/>
<circle cx="1048" cy="1048" r="3"/><circle cx="1068" cy="1048" r="3"/><circle cx="1088" cy="1048" r="3"/>
<circle cx="1321" cy="1050" r="3"/><circle cx="1341" cy="1050" r="3"/><circle cx="1361" cy="1050" r="3"/>
</g>

<!-- Other -->
<g class="r7">
<g id="other-1" transform="translate(411,1067)"><rect class="box" width="217" height="98"/>
<text class="w" x="16" y="22" font-size="19">applied</text><text class="w" x="110" y="19" font-size="17">create</text><text class="w" x="142" y="29" font-size="13">species</text><text class="w" x="10" y="42" font-size="18">microbial</text>
<text class="w" x="116" y="44" font-size="20">droplet</text><text class="s" x="22" y="50">connectivity</text><text class="s" x="90" y="50">modulation</text><text class="w" x="85" y="62" font-size="19">surfaces</text><text class="w" x="158" y="60" font-size="13">device</text>
<text class="w" x="18" y="72" font-size="13">contact</text><text class="s" x="72" y="70">exceeding</text><text class="w" x="138" y="72" font-size="13">droplets</text><text class="w" x="32" y="86" font-size="18">maintaining</text><text class="w" x="178" y="84" font-size="10">chip</text>
<text class="w" x="42" y="94" font-size="10">microbial culture</text></g>
<g id="other-2" transform="translate(686,1067)"><rect class="box" width="217" height="98"/>
<text class="w" x="12" y="16" font-size="13">liquid</text><text class="w" x="60" y="22" font-size="20">nfc</text><text class="w" x="96" y="14" font-size="11">data</text><text class="w" x="130" y="22" font-size="19">life</text>
<text class="w" x="20" y="40" font-size="20">technology</text><text class="s" x="142" y="30">circadian</text><text class="w" x="145" y="39" font-size="14">device</text><text class="w" x="18" y="58" font-size="19">solid</text><text class="w" x="75" y="58" font-size="20">chemical</text>
<text class="w" x="12" y="72" font-size="13">microfluidic</text><text class="w" x="100" y="73" font-size="19">morphogen</text><text class="w" x="32" y="87" font-size="19">allowing</text><text class="s" x="138" y="81">dropletbased</text>
<text class="w" x="132" y="92" font-size="12">interfaces</text><text class="w" x="32" y="96" font-size="10">circuits</text><text class="w" transform="translate(203,60) rotate(-90)" font-size="13">adhesion</text></g>
<g id="other-3" transform="translate(960,1067)"><rect class="box" width="217" height="98"/>
<text class="w" x="15" y="22" font-size="20">droplet</text><text class="w" x="100" y="22" font-size="18">particles</text><text class="s" x="22" y="28">paper</text><text class="w" x="60" y="38" font-size="18">systems</text><text class="w" x="130" y="32" font-size="11">suspensions</text>
<text class="s" x="35" y="44">aims</text><text class="w" x="110" y="46" font-size="11">understanding</text><text class="w" x="14" y="62" font-size="18">nuclear</text><text class="w" x="97" y="62" font-size="20">droplets</text>
<text class="w" x="38" y="78" font-size="16">networks</text><text class="w" x="138" y="74" font-size="13">proposing</text><text class="w" x="15" y="90" font-size="11">particle</text><text class="w" x="68" y="89" font-size="18">security</text></g>
<g id="other-4" transform="translate(1235,1067)"><rect class="box" width="217" height="98"/>
<text class="s" x="25" y="11">scientific</text><text class="w" x="20" y="22" font-size="20">control</text><text class="w" x="125" y="21" font-size="18">neck</text><text class="w" x="32" y="40" font-size="20">droplet</text><text class="w" x="115" y="40" font-size="20">optical</text>
<text class="s" x="16" y="47">networks</text><text class="w" x="55" y="48" font-size="12">gelation</text><text class="w" x="128" y="47" font-size="11">explores</text><text class="w" x="68" y="62" font-size="20">sensorimotor</text>
<text class="w" x="70" y="80" font-size="19">droplets</text><text class="w" x="160" y="76" font-size="12">spiking</text><text class="w" x="20" y="94" font-size="13">information</text><text class="w" x="125" y="94" font-size="19">wind</text>
<text class="w" transform="translate(25,78) rotate(-90)" font-size="13">community</text><text class="s" transform="translate(14,90) rotate(-90)">particles</text></g>
</g>
</svg>
